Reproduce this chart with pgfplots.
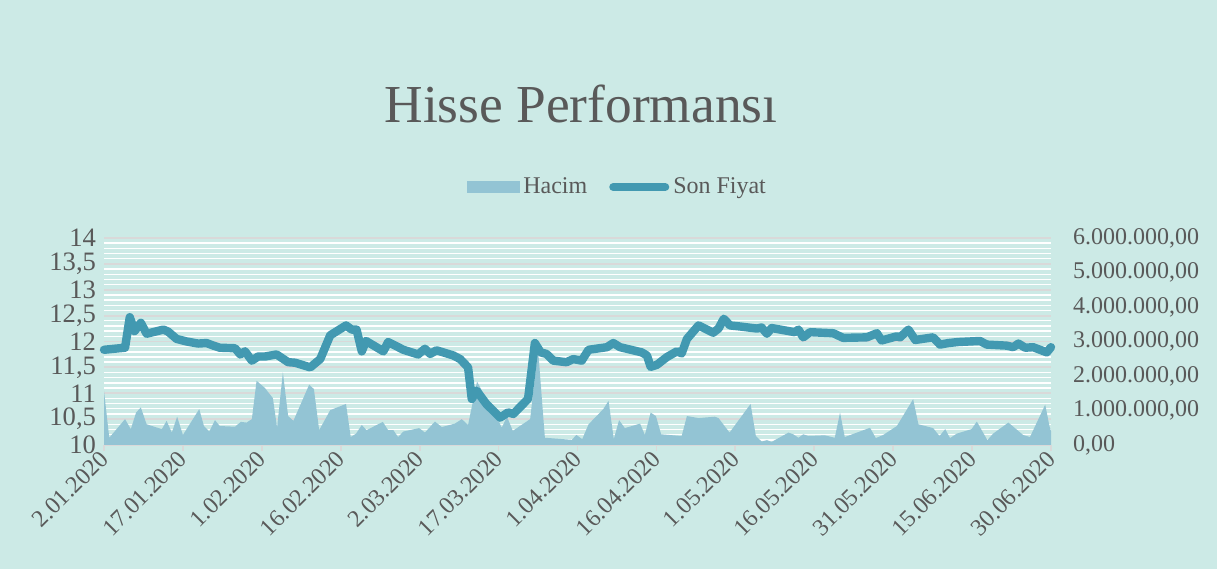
\documentclass[border=0pt]{standalone}
\usepackage{fontspec}
\setmainfont{Liberation Serif}
\usepackage{pgfplots}
\pgfplotsset{compat=1.18}
\usepackage{pgfplotstable}

\definecolor{bgc}{RGB}{204,234,230}
\definecolor{areac}{RGB}{147,196,212}
\definecolor{linec}{RGB}{66,153,177}
\definecolor{gridc}{RGB}{217,217,217}
\definecolor{txtc}{RGB}{89,89,89}

\pgfplotstableread{
day price
0 11.84
4.0 11.88
4.9 12.47
5.8 12.20
7.0 12.36
8.1 12.15
11.3 12.23
12.2 12.19
13.8 12.05
15.7 12.00
17.9 11.96
19.5 11.97
20.8 11.92
22.0 11.88
24.9 11.87
25.9 11.75
26.8 11.81
28.1 11.63
29.3 11.71
30.6 11.71
32.8 11.75
35.0 11.60
36.3 11.59
39.2 11.50
41.1 11.66
43.0 12.12
46.0 12.31
47.1 12.23
48.0 12.23
49.0 11.81
49.8 12.01
53.1 11.81
54.0 11.99
56.9 11.84
59.7 11.75
61.0 11.86
62.0 11.76
63.2 11.83
66.4 11.73
67.7 11.66
69.2 11.50
69.9 10.89
70.8 11.05
72.7 10.79
75.3 10.53
76.8 10.63
77.8 10.60
80.6 10.89
81.9 11.97
83.0 11.79
84.1 11.76
85.4 11.63
87.9 11.60
89.2 11.66
90.8 11.63
92.1 11.84
95.6 11.89
96.8 11.97
98.1 11.89
102.2 11.79
103.2 11.73
103.9 11.51
105.1 11.55
107.0 11.70
108.9 11.81
109.8 11.77
110.8 12.05
113.0 12.31
115.8 12.17
116.8 12.25
117.8 12.44
119.0 12.31
120.9 12.29
124.1 12.25
125.0 12.27
126.0 12.15
126.9 12.26
131.3 12.18
132.0 12.23
132.9 12.08
134.2 12.18
138.6 12.16
140.5 12.07
145.0 12.08
146.9 12.16
147.8 12.02
150.7 12.10
151.3 12.08
152.9 12.23
154.2 12.03
157.6 12.08
158.9 11.94
160.5 11.97
162.4 11.99
166.5 12.01
167.8 11.94
171.6 11.92
172.8 11.89
173.8 11.96
175.1 11.88
176.6 11.89
179.2 11.79
180 11.89
}\pricetable

\pgfplotstableread{
day vol
0 1570000
1.0 210000
4.0 750000
5.1 460000
6.1 940000
7.0 1090000
8.1 600000
11.0 460000
11.9 700000
12.9 360000
13.9 820000
15.0 290000
18.1 1040000
19.0 550000
20.0 390000
21.1 720000
22.0 550000
24.9 530000
26.0 670000
27.1 650000
28.1 750000
29.0 1860000
29.7 1770000
30.6 1650000
32.1 1360000
32.9 500000
34.0 2110000
35.0 840000
36.0 700000
39.0 1750000
39.9 1620000
40.9 430000
43.0 1010000
46.0 1190000
46.9 230000
47.9 330000
49.0 580000
49.9 430000
53.0 670000
54.0 430000
55.0 430000
55.9 230000
56.9 390000
59.9 490000
61.0 360000
62.9 680000
64.2 520000
66.7 620000
68.0 750000
69.2 580000
69.9 1100000
70.9 1840000
72.8 1300000
74.7 800000
75.6 500000
76.6 820000
77.7 410000
81.0 750000
82.5 2780000
83.8 210000
88.9 150000
89.8 290000
90.9 170000
92.1 600000
94.9 1040000
95.9 1280000
96.9 170000
97.9 720000
99.0 490000
101.9 620000
102.8 290000
103.9 940000
104.9 840000
105.9 310000
109.8 260000
110.8 840000
113.0 780000
116.1 820000
116.8 780000
118.9 360000
122.9 1190000
123.9 260000
125.0 100000
126.0 140000
126.9 90000
130.1 360000
131.0 310000
132.0 210000
132.9 310000
133.9 260000
137.0 280000
138.9 210000
139.9 940000
140.8 230000
145.6 500000
146.7 200000
148.1 290000
150.7 550000
151.3 700000
153.8 1330000
154.8 600000
157.6 490000
158.8 260000
159.9 460000
160.8 200000
162.1 330000
164.9 460000
165.9 680000
167.9 140000
169.0 330000
171.9 650000
174.7 290000
176.0 230000
178.9 1170000
179.7 550000
180 400000
}\voltable

\newcommand{\tickfont}{\fontsize{12bp}{14bp}\selectfont}
\newcommand{\lefttickfont}{\fontsize{13.3bp}{15bp}\selectfont}

\pgfplotsset{common/.style={at={(52bp,62bp)}, anchor=south west, scale only axis,
  width=473.5bp, height=103.5bp, xmin=0, xmax=180}}

\begin{document}
\begin{tikzpicture}
\path[use as bounding box, fill=bgc] (0,0) rectangle (608.5bp,284.5bp);

\begin{axis}[common, ymin=10, ymax=14,
  ytick={10,10.5,11,11.5,12,12.5,13,13.5,14}, minor y tick num=4,
  ymajorgrids, yminorgrids,
  major grid style={gridc, line width=0.9bp},
  minor grid style={white, line width=0.7bp},
  axis x line*=bottom, axis y line*=left,
  x axis line style={gridc, line width=0.9bp, -},
  y axis line style={draw=none},
  ytick style={draw=none}, minor tick length=0pt,
  tick align=outside, major tick length=3bp,
  xtick={0,15,30,45,60,75,90,105,120,135,150,165,180},
  xticklabels={2.01.2020,17.01.2020,1.02.2020,16.02.2020,2.03.2020,17.03.2020,1.04.2020,16.04.2020,1.05.2020,16.05.2020,31.05.2020,15.06.2020,30.06.2020},
  xtick style={gridc, line width=0.9bp},
  xticklabel style={rotate=45, anchor=east, font=\tickfont, text=txtc, xshift=2bp, yshift=-1.5bp},
  yticklabel style={font=\lefttickfont, text=txtc, xshift=2.5bp},
  /pgf/number format/.cd, use comma, assume math mode=true
]
\end{axis}

\begin{axis}[common, ymin=0, ymax=6000000,
  ytick={0,1000000,2000000,3000000,4000000,5000000,6000000}, scaled y ticks=false,
  axis y line*=right, axis x line=none,
  y axis line style={draw=none}, ytick style={draw=none},
  yticklabel style={font=\tickfont, text=txtc, xshift=7.5bp,
    /pgf/number format/.cd, fixed, fixed zerofill, precision=2, use comma, 1000 sep={.}, assume math mode=true}
]
\addplot[fill=areac, draw=none] table[x=day,y=vol]{\voltable} \closedcycle;
\end{axis}

\begin{axis}[common, ymin=10, ymax=14, hide axis, clip=false,
  legend style={at={(0.543,1.246)}, anchor=center, draw=none, fill=none,
    legend columns=2, font=\tickfont, text=txtc,
    /tikz/every even column/.append style={column sep=9bp}},
  legend cell align=left
]
\addlegendimage{legend image code/.code={\fill[areac] (0bp,-2.75bp) rectangle (26bp,2.75bp);}}
\addlegendentry{Hacim}
\addplot[linec, line width=4.2bp, line cap=round, line join=round,
  legend image code/.code={\draw[linec, line width=4bp, line cap=round] (2bp,0) -- (28bp,0);}]
  table[x=day,y=price]{\pricetable};
\addlegendentry{Son Fiyat}
\end{axis}

\node[anchor=base, font=\fontsize{26.7bp}{30bp}\selectfont, text=txtc] at (290.5bp,223bp) {Hisse Performansı};
\end{tikzpicture}
\end{document}
